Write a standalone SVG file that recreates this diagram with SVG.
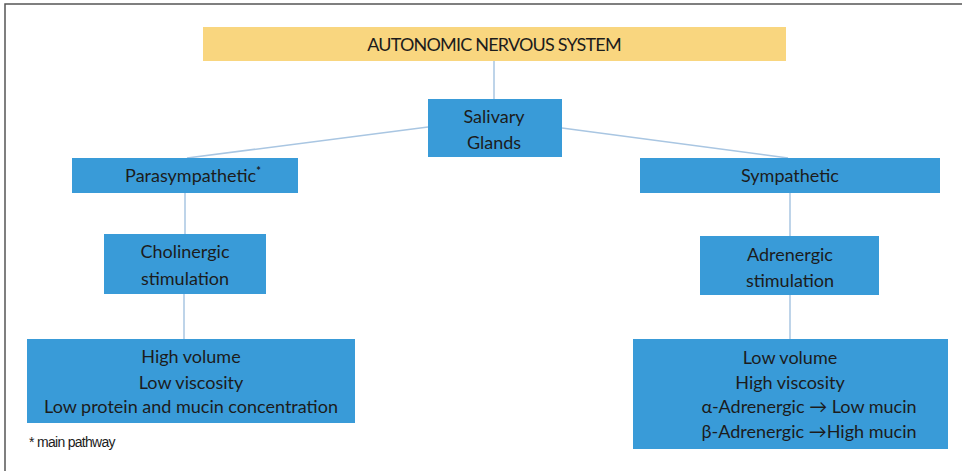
<svg xmlns="http://www.w3.org/2000/svg" width="962" height="471" viewBox="0 0 962 471">
<style>
.box{fill:#399bd8;}
.ybox{fill:#f9d67f;}
.t{font-family:Lato,"Liberation Sans",sans-serif;font-size:18px;fill:#1c1c1c;text-anchor:middle;}
.c{stroke:#a9c6e2;stroke-width:1.5;fill:none;}
.note{font-family:"Liberation Sans",Arial,sans-serif;font-size:14px;fill:#1c1c1c;letter-spacing:-0.7px;}
</style>
<rect width="962" height="471" fill="#ffffff"/>
<path d="M5 471 V4 H962" stroke="#555" stroke-width="1.5" fill="none"/>
<g id="connectors">
<line class="c" x1="494" y1="61" x2="494" y2="99"/>
<line class="c" x1="428" y1="127" x2="187" y2="158"/>
<line class="c" x1="562" y1="128" x2="788" y2="158"/>
<line class="c" x1="185" y1="193" x2="185" y2="234"/>
<line class="c" x1="184" y1="294" x2="184" y2="339"/>
<line class="c" x1="790" y1="193" x2="790" y2="236"/>
<line class="c" x1="790" y1="295" x2="790" y2="339"/>
</g>
<g id="ans">
<rect class="ybox" x="203" y="27" width="583" height="34"/>
<text class="t" x="494" y="51" font-size="16" letter-spacing="-0.8">AUTONOMIC NERVOUS SYSTEM</text>
</g>
<g id="salivary">
<rect class="box" x="428" y="99" width="134" height="58"/>
<text class="t" x="494" y="123">Salivary</text>
<text class="t" x="494" y="149">Glands</text>
</g>
<g id="parasympathetic">
<rect class="box" x="72" y="158" width="226" height="35"/>
<text class="t" x="193" y="182">Parasympathetic<tspan font-size="11" font-weight="bold" dy="-7">*</tspan></text>
</g>
<g id="sympathetic">
<rect class="box" x="640" y="158" width="300" height="35"/>
<text class="t" x="790" y="182">Sympathetic</text>
</g>
<g id="cholinergic">
<rect class="box" x="104" y="234" width="162" height="60"/>
<text class="t" x="185" y="258">Cholinergic</text>
<text class="t" x="185" y="285">stimulation</text>
</g>
<g id="adrenergic">
<rect class="box" x="700" y="236" width="179" height="59"/>
<text class="t" x="790" y="261">Adrenergic</text>
<text class="t" x="790" y="287">stimulation</text>
</g>
<g id="para-effects">
<rect class="box" x="27" y="339" width="328" height="84"/>
<text class="t" x="191" y="363">High volume</text>
<text class="t" x="191" y="389">Low viscosity</text>
<text class="t" x="191" y="413">Low protein and mucin concentration</text>
</g>
<g id="symp-effects">
<rect class="box" x="633" y="339" width="315" height="110"/>
<text class="t" x="790" y="364">Low volume</text>
<text class="t" x="790" y="389">High viscosity</text>
<text class="t" x="809" y="413">α-Adrenergic → Low mucin</text>
<text class="t" x="809" y="438">β-Adrenergic →High mucin</text>
</g>
<text class="note" x="29" y="447">* main pathway</text>
</svg>
